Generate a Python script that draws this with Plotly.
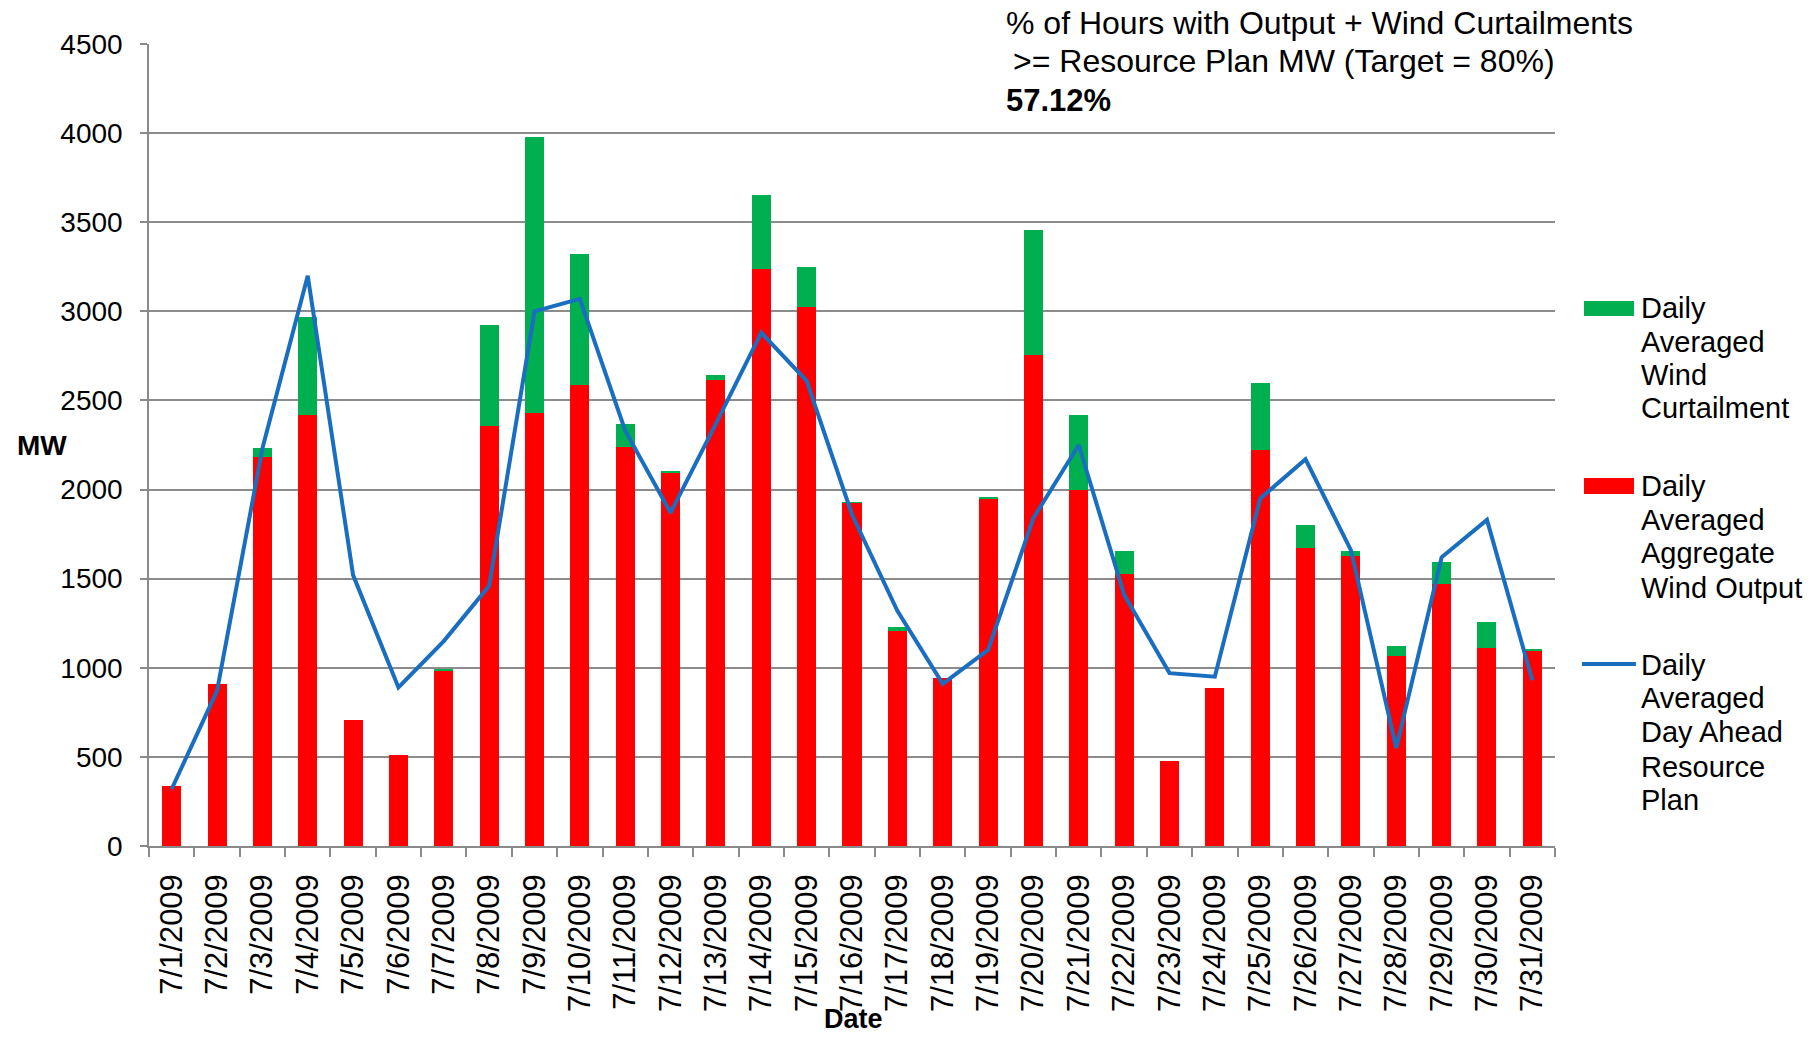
import plotly.graph_objects as go

dates = ["7/%d/2009" % d for d in range(1, 32)]
wind_output = [338, 908, 2185, 2420, 706, 512, 985, 2355, 2430, 2585, 2240, 2098, 2615, 3240, 3025, 1925,
               1207, 940, 1950, 2755, 2000, 1525, 475, 885, 2220, 1670, 1625, 1065, 1470, 1110, 1095]
curtailment = [0, 0, 50, 550, 0, 0, 10, 570, 1550, 735, 130, 5, 30, 415, 225, 5,
               20, 0, 8, 700, 420, 130, 0, 0, 380, 130, 30, 55, 125, 145, 8]
resource_plan = [320, 870, 2230, 3200, 1520, 890, 1150, 1460, 3000, 3070, 2330, 1870, 2370, 2880, 2610, 1860,
                 1320, 910, 1100, 1840, 2250, 1410, 970, 950, 1950, 2170, 1660, 550, 1620, 1830, 930]

legend_curtail = ["Daily", "Averaged", "Wind", "Curtailment"]
legend_output = ["Daily", "Averaged", "Aggregate", "Wind Output"]
legend_plan = ["Daily", "Averaged", "Day Ahead", "Resource", "Plan"]

RED = "#FF0000"
GREEN = "#00B050"
BLUE = "#1A6EC0"
FONT = "Liberation Sans, Arial, sans-serif"

W, H = 1820, 1038
L, R, T, B = 148.6, 1555.0, 44.0, 846.0
PW, PH = R - L, B - T


def px(x):
    return (x - L) / PW


def py(y):
    return (B - y) / PH


fig = go.Figure()
fig.add_trace(go.Bar(x=dates, y=wind_output, name="Daily Averaged Aggregate Wind Output",
                     marker=dict(color=RED, line=dict(width=0))))
fig.add_trace(go.Bar(x=dates, y=curtailment, name="Daily Averaged Wind Curtailment",
                     marker=dict(color=GREEN, line=dict(width=0))))
fig.add_trace(go.Scatter(x=dates, y=resource_plan, mode="lines",
                         name="Daily Averaged Day Ahead Resource Plan",
                         line=dict(color=BLUE, width=4)))

annotations = []
shapes = []


def text(x, y, s, size=28, bold=False, xanchor="left"):
    annotations.append(dict(x=px(x), y=py(y), xref="paper", yref="paper", text=("<b>%s</b>" % s) if bold else s,
                            showarrow=False, xanchor=xanchor, yanchor="middle", borderpad=0,
                            font=dict(family=FONT, size=size, color="black")))


# header text
text(1005, 23, "% of Hours with Output + Wind Curtailments", size=32)
text(1012, 61, "&gt;= Resource Plan MW (Target = 80%)", size=32)
text(1005, 101, "57.12%", size=31, bold=True)

# axis titles
text(42, 445, "MW", size=28, bold=True, xanchor="center")
text(853, 1019, "Date", size=27, bold=True, xanchor="center")

# manual legend
tx = 1640
line_y1 = [308, 342, 375, 408]
line_y2 = [486, 520, 553, 588]
line_y3 = [665, 698, 732, 767, 800]
for s, y in zip(legend_curtail, line_y1):
    text(tx, y, s, size=29)
for s, y in zip(legend_output, line_y2):
    text(tx, y, s, size=29)
for s, y in zip(legend_plan, line_y3):
    text(tx, y, s, size=29)

shapes.append(dict(type="rect", xref="paper", yref="paper", x0=px(1584), x1=px(1634), y0=py(316), y1=py(301),
                   fillcolor=GREEN, line=dict(width=0)))
shapes.append(dict(type="rect", xref="paper", yref="paper", x0=px(1584), x1=px(1634), y0=py(494), y1=py(478),
                   fillcolor=RED, line=dict(width=0)))
shapes.append(dict(type="line", xref="paper", yref="paper", x0=px(1582), x1=px(1636), y0=py(664), y1=py(664),
                   line=dict(color=BLUE, width=4)))

fig.update_layout(
    width=W, height=H,
    margin=dict(l=L, r=W - R, t=T, b=H - B, pad=0),
    paper_bgcolor="white", plot_bgcolor="white",
    barmode="stack", bargap=0.58,
    showlegend=False,
    font=dict(family=FONT, size=28, color="black"),
    annotations=annotations,
    shapes=shapes,
)
fig.update_xaxes(
    type="category", tickangle=-90, tickson="boundaries", ticks="outside", ticklen=9,
    tickcolor="#8A8A8A", tickwidth=1.5, showline=True, linecolor="#8A8A8A", linewidth=1.5,
    showgrid=False, tickfont=dict(family=FONT, size=31, color="black"), ticklabelstandoff=14,
)
fig.update_yaxes(
    range=[0, 4500], dtick=500, tick0=0, showgrid=True, gridcolor="#8C8C8C", gridwidth=1.5,
    ticks="outside", ticklen=7, tickcolor="#8A8A8A", tickwidth=1.5, showline=True,
    linecolor="#8A8A8A", linewidth=1.5, zeroline=False,
    tickfont=dict(family=FONT, size=28, color="black"), ticklabelstandoff=12,
)

fig.write_html("out.html", config={"displayModeBar": False},
               post_script="document.body.style.margin='0';document.body.style.overflow='hidden';")
